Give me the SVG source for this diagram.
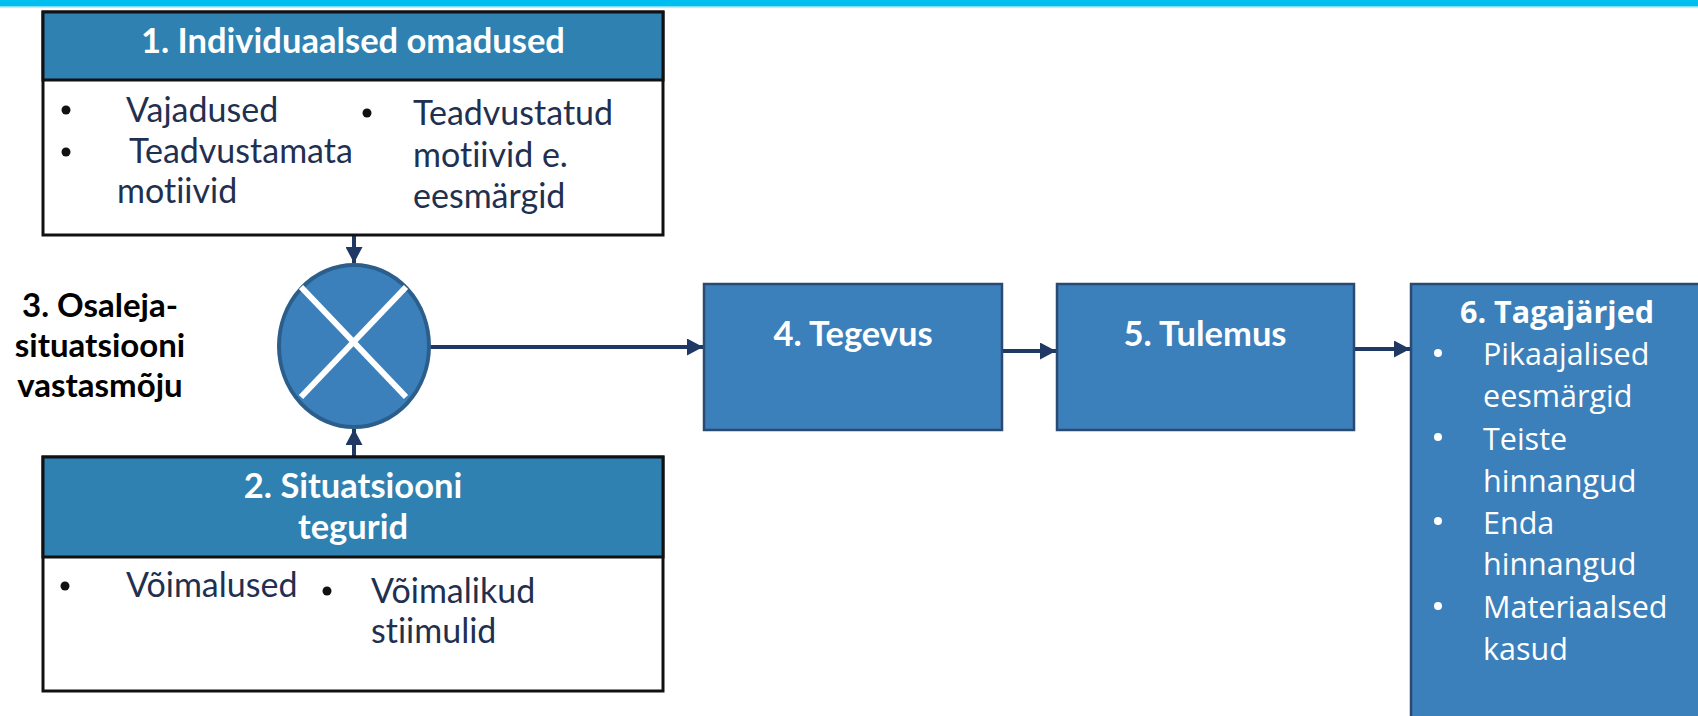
<svg xmlns="http://www.w3.org/2000/svg" width="1698" height="716" viewBox="0 0 1698 716">
<style>
text{font-variant-ligatures:none;font-feature-settings:"liga" 0}
.hdr{fill:#2E81B0;stroke:#111;stroke-width:3}
.body{fill:#fff;stroke:#111;stroke-width:3}
.blk{fill:#3B80BA;stroke:#2B4A72;stroke-width:2.5}
.ht{font-family:Lato,"Liberation Sans",sans-serif;font-weight:bold;fill:#fff;font-size:34.5px;text-anchor:middle}
.bt{font-family:Lato,"Liberation Sans",sans-serif;fill:#1F3050;font-size:34px}
.bul{fill:#111}
.lbl{font-family:Lato,"Liberation Sans",sans-serif;font-weight:bold;fill:#000;font-size:33px;text-anchor:middle}
.t6{font-family:"Open Sans","Noto Sans",sans-serif;fill:#fff;font-size:30.5px}
.con{stroke:#1F3864;stroke-width:4;fill:none}
</style>
<defs>
<marker id="ah" markerWidth="16" markerHeight="17" refX="16" refY="8.5" orient="auto" markerUnits="userSpaceOnUse">
<path d="M0,0 L16,8.5 L0,17 Z" fill="#1F3864"/>
</marker>
</defs>
<rect x="0" y="0" width="1698" height="7" fill="#00BFF0"/>
<rect x="0" y="6" width="1698" height="1.5" fill="#7FDDF6"/>

<g id="connectors">
<line class="con" x1="354" y1="236" x2="354" y2="263" marker-end="url(#ah)"/>
<line class="con" x1="354" y1="457" x2="354" y2="429" marker-end="url(#ah)"/>
<line class="con" x1="430" y1="347" x2="703" y2="347" marker-end="url(#ah)"/>
<line class="con" x1="1002" y1="351" x2="1056" y2="351" marker-end="url(#ah)"/>
<line class="con" x1="1354" y1="349" x2="1410" y2="349" marker-end="url(#ah)"/>
</g>

<g id="node1">
<rect class="body" x="43" y="12" width="620" height="223"/>
<rect class="hdr" x="43" y="12" width="620" height="68"/>
<text class="ht" x="353" y="53">1. Individuaalsed omadused</text>
<circle class="bul" cx="66" cy="110" r="4.5"/>
<circle class="bul" cx="66" cy="152" r="4.5"/>
<circle class="bul" cx="367" cy="113" r="4.5"/>
<text class="bt" x="126" y="122">Vajadused</text>
<text class="bt" x="129" y="163">Teadvustamata</text>
<text class="bt" x="117" y="203">motiivid</text>
<text class="bt" x="413" y="125">Teadvustatud</text>
<text class="bt" x="413" y="167">motiivid e.</text>
<text class="bt" x="413" y="208">eesmärgid</text>
</g>

<g id="node3">
<ellipse cx="354" cy="346" rx="75" ry="81" fill="#3B80BA" stroke="#2C5E8C" stroke-width="4"/>
<line x1="301" y1="287" x2="406" y2="397" stroke="#fff" stroke-width="6"/>
<line x1="406" y1="287" x2="301" y2="397" stroke="#fff" stroke-width="6"/>
<text class="lbl" x="100" y="317">3. Osaleja-</text>
<text class="lbl" x="100" y="357">situatsiooni</text>
<text class="lbl" x="100" y="397">vastasmõju</text>
</g>

<g id="node2">
<rect class="body" x="43" y="457" width="620" height="234"/>
<rect class="hdr" x="43" y="457" width="620" height="100"/>
<text class="ht" x="353" y="498">2. Situatsiooni</text>
<text class="ht" x="353" y="539">tegurid</text>
<circle class="bul" cx="65" cy="586" r="4.5"/>
<circle class="bul" cx="327" cy="591" r="4.5"/>
<text class="bt" x="126" y="597">Võimalused</text>
<text class="bt" x="371" y="603">Võimalikud</text>
<text class="bt" x="371" y="643">stiimulid</text>
</g>

<g id="node4">
<rect class="blk" x="704" y="284" width="298" height="146"/>
<text class="ht" x="853" y="346">4. Tegevus</text>
</g>

<g id="node5">
<rect class="blk" x="1057" y="284" width="297" height="146"/>
<text class="ht" x="1205" y="346">5. Tulemus</text>
</g>

<g id="node6">
<rect class="blk" x="1411" y="284" width="300" height="440"/>
<text class="t6" x="1557" y="323" text-anchor="middle" font-weight="bold">6. Tagajärjed</text>
<g fill="#fff">
<circle cx="1438" cy="353" r="4"/>
<circle cx="1438" cy="437" r="4"/>
<circle cx="1438" cy="521" r="4"/>
<circle cx="1438" cy="606" r="4"/>
</g>
<text class="t6" x="1483" y="365">Pikaajalised</text>
<text class="t6" x="1483" y="407">eesmärgid</text>
<text class="t6" x="1483" y="450">Teiste</text>
<text class="t6" x="1483" y="492">hinnangud</text>
<text class="t6" x="1483" y="534">Enda</text>
<text class="t6" x="1483" y="575">hinnangud</text>
<text class="t6" x="1483" y="618">Materiaalsed</text>
<text class="t6" x="1483" y="660">kasud</text>
</g>
</svg>
